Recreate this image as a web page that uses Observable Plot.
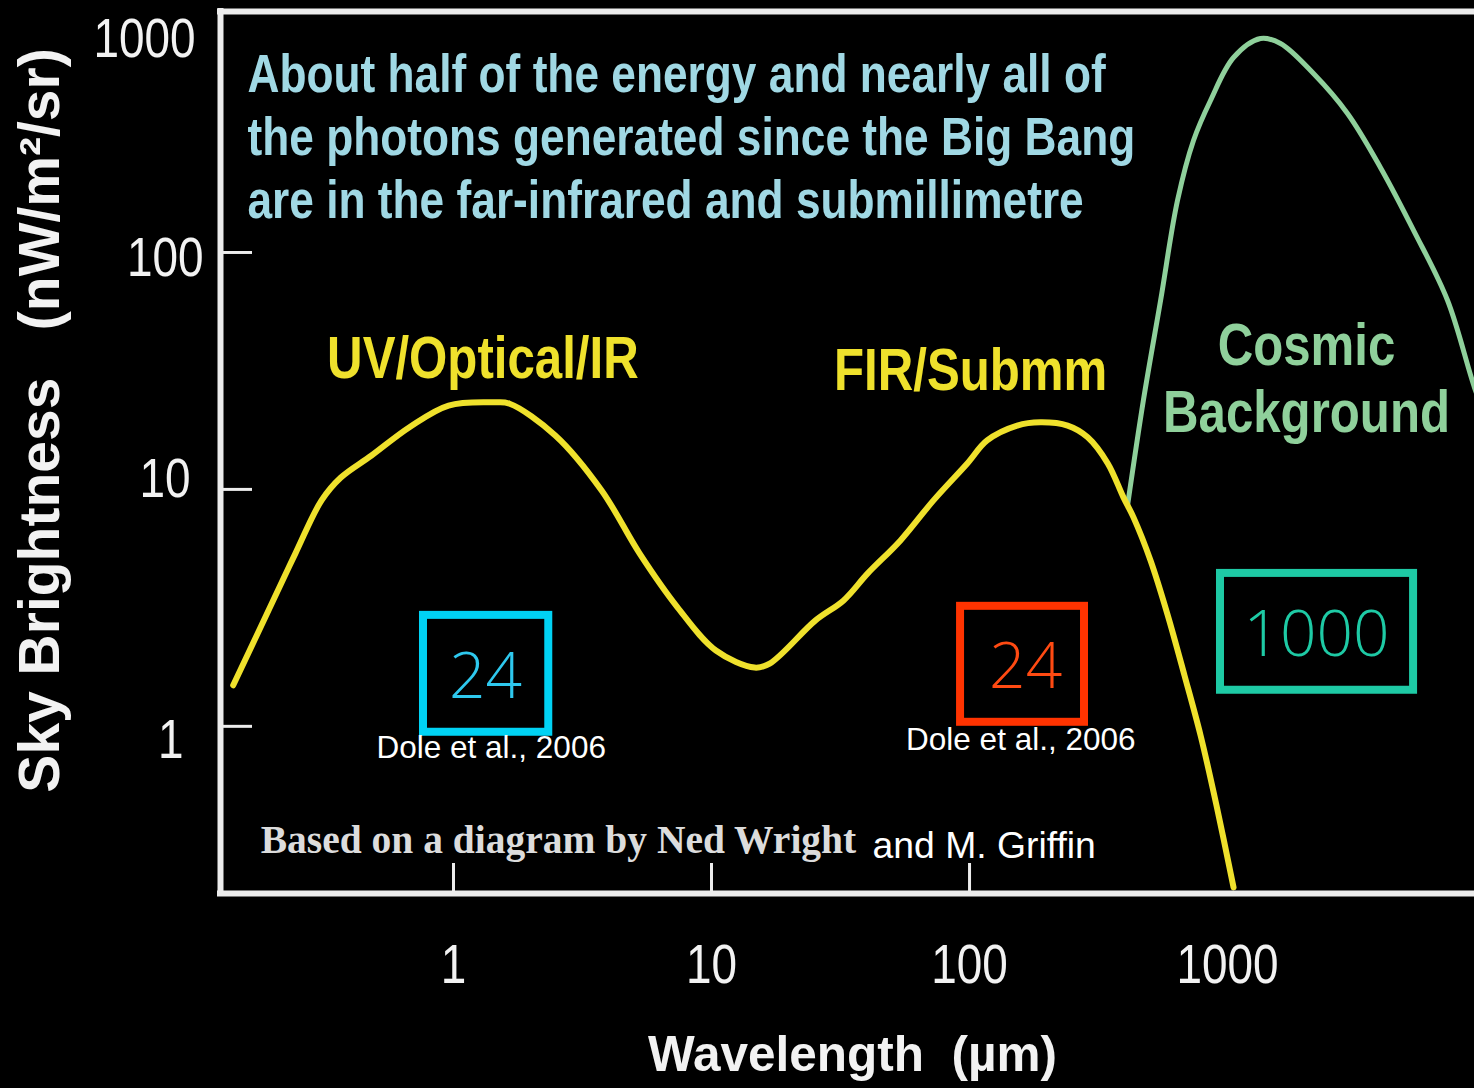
<!DOCTYPE html>
<html>
<head>
<meta charset="utf-8">
<script src="https://cdn.jsdelivr.net/npm/d3@7"></script>
<script src="https://cdn.jsdelivr.net/npm/@observablehq/plot@0.6"></script>
<style>
  html, body { margin: 0; padding: 0; background: #000; }
  #chart { width: 1474px; height: 1088px; overflow: hidden; }
</style>
</head>
<body>
<div id="chart"></div>
<script>
// Extragalactic background: wavelength (µm) vs sky brightness (nW/m²/sr)

// UV / optical / IR and far-IR / submm background (one continuous curve)
const ebLambda = [0.140, 0.192, 0.244, 0.308, 0.365, 0.481, 0.675, 0.957, 1.44, 1.65, 2.48, 3.75, 5.26, 7.38, 10.4, 14.7, 16.8, 25.3, 32.5, 40.3, 54.0, 72.5, 98.2, 117, 153, 188, 240, 287, 343, 395, 432, 503, 585, 681, 786, 906, 1055];
const ebBright = [1.49, 3.09, 5.37, 8.99, 11.2, 13.9, 18.3, 22.6, 23.3, 23.0, 16.9, 9.9, 5.37, 3.18, 2.09, 1.77, 1.84, 2.80, 3.40, 4.42, 6.09, 8.99, 12.9, 16.1, 18.6, 19.2, 18.6, 16.6, 12.9, 9.25, 7.62, 5.01, 2.97, 1.64, 0.916, 0.464, 0.209];

// Cosmic microwave background
const cmbLambda = [410, 472, 550, 640, 738, 859, 1055, 1342, 1604, 2153, 2917, 3917, 5260, 7125, 9060, 10450];
const cmbBright = [8.6, 23.8, 62.6, 166, 297, 438, 665, 800, 762, 569, 386, 228, 124, 62.7, 26.9, 17.7];

// Axis ticks
const xTickValues = [1, 10, 100, 1000];
const xTickMarks = [1, 10, 100];
const yTickMarks = [1, 10, 100];
const yTickValues = [1, 10, 100, 1000];

// Annotations (placed in data units)
const noteLines = [
  "About half of the energy and nearly all of",
  "the photons generated since the Big Bang",
  "are in the far-infrared and submillimetre"
];
const noteLambda = 0.159;
const noteBright = [564, 305, 166];

const regionNames = ["UV/Optical/IR", "FIR/Submm"];
const regionLambda = [1.30, 101];
const regionBright = [35.7, 31.8];

const cmbName = ["Cosmic", "Background"];
const cmbNameLambda = 2023;
const cmbNameBright = [40.5, 21.1];

// Survey band boxes
const bandLabels = ["24", "24", "1000"];
const bandLambdaLo = [0.765, 92.3, 939];
const bandLambdaHi = [2.34, 279, 5260];
const bandBrightLo = [0.944, 1.04, 1.42];
const bandBrightHi = [2.94, 3.21, 4.42];
const bandTextLambda = [1.33, 165, 2213];
const bandTextBright = [1.61, 1.77, 2.42];

const citeText = ["Dole et al., 2006", "Dole et al., 2006"];
const citeLambda = [1.40, 158];
const citeBright = [0.807, 0.873];

const creditText = ["Based on a diagram by Ned Wright", "and M. Griffin"];
const creditLambda = [0.179, 42.1];
const creditBright = [0.330, 0.312];

// Styling
const FONT_SANS = "'Liberation Sans', Arial, Helvetica, sans-serif";
const FONT_NARROW = "'Liberation Sans', Arial, sans-serif "; // condensed after render
const CONDENSE = 0.82;
const FONT_SERIF = "'Liberation Serif', 'Times New Roman', serif";
const FONT_LIGHT = "'Open Sans', 'Noto Sans', sans-serif";
const WHITE = "#f2f2f2";
const FRAME = "#ececec";
const YELLOW = "#efe12c";
const GREEN = "#8fd09b";
const NOTE = "#a0d8e4";
const BAND_COLORS = ["#00d2f4", "#ff3300", "#1ecaa5"];
const BAND_TEXT = ["#2ec8ee", "#ff4a12", "#1ecaa5"];
// hand-set nudges of the y tick labels, in pixels
const Y_LABEL_NUDGE = {1: [-12, 14], 10: [-5, -10], 100: [8, 6], 1000: [0, 24]};

const xDomain = [0.125, 9060];
const yDomain = [0.197, 1040];

const eb = ebLambda.map((l, i) => ({lambda: l, bright: ebBright[i]}));
const cmb = cmbLambda.map((l, i) => ({lambda: l, bright: cmbBright[i]}));
const notes = noteLines.map((t, i) => ({text: t, lambda: noteLambda, bright: noteBright[i]}));
const regions = regionNames.map((t, i) => ({text: t, lambda: regionLambda[i], bright: regionBright[i]}));
const cmbNames = cmbName.map((t, i) => ({text: t, lambda: cmbNameLambda, bright: cmbNameBright[i]}));
const bands = bandLabels.map((t, i) => ({
  text: t, x1: bandLambdaLo[i], x2: bandLambdaHi[i], y1: bandBrightLo[i], y2: bandBrightHi[i],
  tx: bandTextLambda[i], ty: bandTextBright[i], i
}));
const cites = citeText.map((t, i) => ({text: t, lambda: citeLambda[i], bright: citeBright[i]}));

const yLabelAxes = yTickValues.map(v => Plot.axisY({
  ticks: [v], tickSize: 0, tickPadding: 25, dx: Y_LABEL_NUDGE[v][0], dy: Y_LABEL_NUDGE[v][1],
  tickFormat: d => String(d), fontSize: 56, fontFamily: FONT_NARROW, fill: WHITE, label: null
}));

const chart = Plot.plot({
  width: 1474,
  height: 1088,
  marginLeft: 220,
  marginRight: 0,
  marginTop: 11,
  marginBottom: 195,
  style: {background: "#000", color: WHITE, overflow: "visible"},
  x: {type: "log", domain: xDomain},
  y: {type: "log", domain: yDomain},
  marks: [
    // spectra
    Plot.line(cmb, {x: "lambda", y: "bright", stroke: GREEN, strokeWidth: 5, curve: "catmull-rom", clip: true}),
    Plot.line(eb, {x: "lambda", y: "bright", stroke: YELLOW, strokeWidth: 6, curve: "catmull-rom", clip: true, strokeLinecap: "round"}),

    // frame: top, left and bottom edges
    Plot.ruleY([yDomain[1]], {stroke: FRAME, strokeWidth: 6, strokeLinecap: "square"}),
    Plot.ruleY([yDomain[0]], {stroke: FRAME, strokeWidth: 6, strokeLinecap: "square"}),
    Plot.ruleX([xDomain[0]], {stroke: FRAME, strokeWidth: 6, strokeLinecap: "square"}),

    // inward ticks
    Plot.axisY({ticks: yTickMarks, tickSize: -32, strokeWidth: 3, stroke: FRAME, tickFormat: () => "", label: null}),
    Plot.axisX({ticks: xTickMarks, tickSize: -30, strokeWidth: 3, stroke: FRAME, tickFormat: () => "", label: null}),

    // tick labels
    ...yLabelAxes,
    Plot.axisX({ticks: xTickValues, tickSize: 0, tickPadding: 50, tickFormat: d => String(d), fontSize: 56, fontFamily: FONT_NARROW, fill: WHITE, label: null}),

    // axis titles
    Plot.text(["Wavelength\u00a0\u00a0(\u00b5m)"], {frameAnchor: "bottom", lineAnchor: "middle", dx: 5, dy: 162, fontSize: 49.5, fontWeight: "bold", fontFamily: FONT_SANS, fill: WHITE}),
    Plot.text(["Sky Brightness\u00a0\u00a0\u00a0(nW/m\u00b2/sr)"], {frameAnchor: "left", textAnchor: "middle", lineAnchor: "middle", rotate: -90, dx: -180, dy: -32, fontSize: 57, fontWeight: "bold", fontFamily: FONT_SANS, fill: WHITE}),

    // headline note
    Plot.text(notes, {x: "lambda", y: "bright", text: "text", textAnchor: "start", fontSize: 54, fontWeight: "bold", fontFamily: FONT_NARROW, fill: NOTE}),

    // component names
    Plot.text(regions, {x: "lambda", y: "bright", text: "text", fontSize: 60, fontWeight: "bold", fontFamily: FONT_NARROW, fill: YELLOW}),
    Plot.text(cmbNames, {x: "lambda", y: "bright", text: "text", fontSize: 60, fontWeight: "bold", fontFamily: FONT_NARROW, fill: GREEN}),

    // survey bands
    Plot.rect(bands, {x1: "x1", x2: "x2", y1: "y1", y2: "y2", fill: "none", stroke: d => BAND_COLORS[d.i], strokeWidth: 8}),
    Plot.text(bands, {x: "tx", y: "ty", text: "text", fill: d => BAND_TEXT[d.i], fontSize: 64, fontWeight: 300, fontFamily: FONT_LIGHT}),
    Plot.text(cites, {x: "lambda", y: "bright", text: "text", fill: "#ffffff", fontSize: 31.5, fontFamily: FONT_SANS}),

    // credits
    Plot.text([creditText[0]], {x: () => creditLambda[0], y: () => creditBright[0], textAnchor: "start", fontSize: 39.5, fontWeight: "bold", fontFamily: FONT_SERIF, fill: "#dcdcdc"}),
    Plot.text([creditText[1]], {x: () => creditLambda[1], y: () => creditBright[1], textAnchor: "start", fontSize: 37.3, fontFamily: FONT_SANS, fill: "#ffffff"})
  ]
});

document.getElementById("chart").appendChild(chart);

// Condensed lettering: squeeze every text set in the "narrow" face horizontally
// about its own anchor point.
d3.select(chart).selectAll("text").each(function() {
  const host = this.closest("[font-family]");
  if (!host || host.getAttribute("font-family") !== FONT_NARROW) return;
  const t = this.getAttribute("transform");
  if (t) {
    this.setAttribute("transform", `${t} scale(${CONDENSE},1)`);
  } else {
    const x = +this.getAttribute("x") || 0;
    this.setAttribute("transform", `translate(${x},0) scale(${CONDENSE},1) translate(${-x},0)`);
  }
});
</script>
</body>
</html>
